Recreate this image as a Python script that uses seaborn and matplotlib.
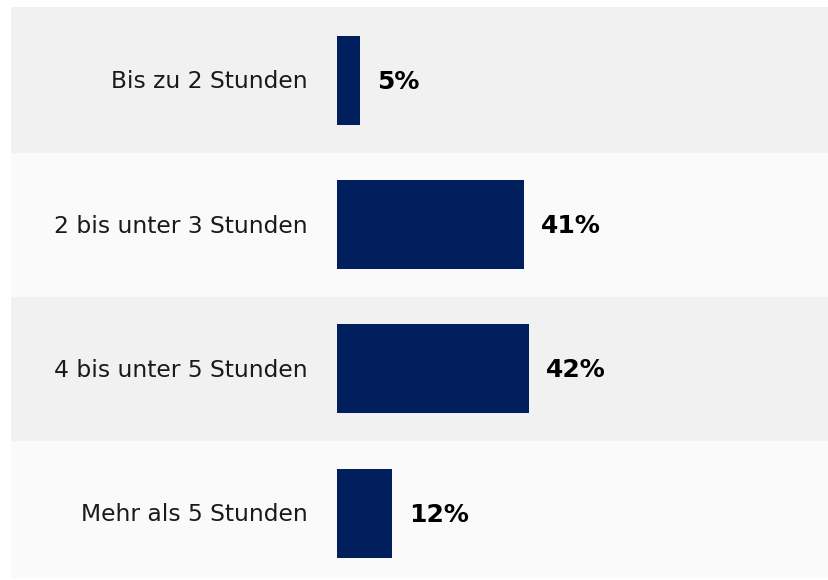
import matplotlib
matplotlib.use("Agg")
import matplotlib.pyplot as plt
import seaborn as sns
import pandas as pd

categories = ["Bis zu 2 Stunden", "2 bis unter 3 Stunden", "4 bis unter 5 Stunden", "Mehr als 5 Stunden"]
values = [5, 41, 42, 12]
value_labels = ["5%", "41%", "42%", "12%"]

df = pd.DataFrame({"cat": categories, "val": values})

sns.set_theme(style="white")
plt.rcParams['font.family'] = ['DejaVu Sans']

fig = plt.figure(figsize=(8.29, 5.8), dpi=100)
ax = fig.add_axes([11/829, 2/580, 1 - 11/829, 571/580])

band_colors = ["#f1f1f1", "#fafafa"]
for i in range(len(categories)):
    ax.axhspan(i - 0.6 if i == 0 else i - 0.5, i + 0.6 if i == len(categories) - 1 else i + 0.5,
               color=band_colors[i % 2], zorder=0, lw=0)

sns.barplot(data=df, x="val", y="cat", order=categories, orient="h",
            color="#001f5c", width=0.617, ax=ax, zorder=2, saturation=1,
            linewidth=0)

for i, (v, lab) in enumerate(zip(values, value_labels)):
    ax.text(v + 3.7, i + 0.01, lab, ha="left", va="center", fontsize=18,
            fontweight="bold", color="#000000", zorder=3)
    ax.text(-6.4, i + 0.01, categories[i], ha="right", va="center", fontsize=16.8,
            color="#1a1a1a", zorder=3)

ax.set_xlim(-71.3, 107.6)
ax.set_ylim(3.45, -0.51)
ax.set_xlabel("")
ax.set_ylabel("")
ax.set_xticks([])
ax.set_yticks([])
for s in ax.spines.values():
    s.set_visible(False)
ax.patch.set_alpha(0)

fig.savefig("out.png", dpi=100, facecolor="white")
